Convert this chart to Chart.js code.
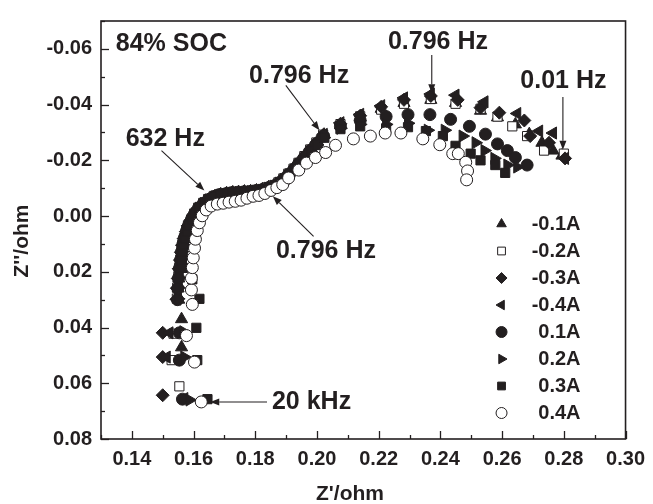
<!DOCTYPE html>
<html><head><meta charset="utf-8">
<script src="https://cdn.jsdelivr.net/npm/chart.js@4/dist/chart.umd.min.js"></script>
<style>html,body{margin:0;padding:0;background:#fff;}canvas{display:block;}</style>
</head><body>
<canvas id="c" width="653" height="504"></canvas>
<script>
// ---------- data (Z' , Z'') in ohm ----------
const seriesLabels = ['-0.1A','-0.2A','-0.3A','-0.4A','0.1A','0.2A','0.3A','0.4A'];

const sNeg01 = [[0.1561,0.0471],[0.1561,0.0370],[0.1552,0.0300],[0.1550,0.0260],[0.1552,0.0224],[0.1555,0.0190],[0.1558,0.0158],[0.1562,0.0130],[0.1566,0.0105],[0.1571,0.0081],[0.1578,0.0057],[0.1585,0.0035],[0.1594,0.0014],[0.1605,-0.0007],[0.1618,-0.0028],[0.1634,-0.0046],[0.1650,-0.0060],[0.1669,-0.0071],[0.1688,-0.0078],[0.1707,-0.0082],[0.1727,-0.0085],[0.1746,-0.0086],[0.1765,-0.0088],[0.1785,-0.0089],[0.1804,-0.0092],[0.1823,-0.0096],[0.1843,-0.0103],[0.1861,-0.0110],[0.1878,-0.0121],[0.1894,-0.0136],[0.1910,-0.0153],[0.1926,-0.0171],[0.1943,-0.0192],[0.1962,-0.0216],[0.1981,-0.0240],[0.2001,-0.0265],[0.2023,-0.0292],[0.2076,-0.0326],[0.2140,-0.0354],[0.2208,-0.0385],[0.2282,-0.0406],[0.2369,-0.0417],[0.2449,-0.0406],[0.2530,-0.0378],[0.2585,-0.0354],[0.2643,-0.0329],[0.2688,-0.0294],[0.2729,-0.0263],[0.2765,-0.0235],[0.2794,-0.0217]];

const sNeg02 = [[0.1554,0.0611],[0.1529,0.0517],[0.1535,0.0422],[0.1546,0.0296],[0.1547,0.0257],[0.1550,0.0222],[0.1553,0.0187],[0.1557,0.0156],[0.1560,0.0128],[0.1563,0.0103],[0.1569,0.0079],[0.1576,0.0054],[0.1582,0.0033],[0.1592,0.0012],[0.1602,-0.0009],[0.1615,-0.0030],[0.1631,-0.0047],[0.1647,-0.0061],[0.1666,-0.0072],[0.1685,-0.0079],[0.1705,-0.0082],[0.1724,-0.0086],[0.1743,-0.0086],[0.1763,-0.0089],[0.1782,-0.0089],[0.1801,-0.0093],[0.1821,-0.0096],[0.1840,-0.0103],[0.1859,-0.0110],[0.1875,-0.0121],[0.1891,-0.0135],[0.1907,-0.0152],[0.1924,-0.0170],[0.1940,-0.0191],[0.1959,-0.0215],[0.1978,-0.0239],[0.1998,-0.0264],[0.2020,-0.0292],[0.2076,-0.0330],[0.2140,-0.0358],[0.2208,-0.0382],[0.2282,-0.0403],[0.2369,-0.0420],[0.2449,-0.0403],[0.2530,-0.0385],[0.2585,-0.0357],[0.2633,-0.0322],[0.2681,-0.0287],[0.2736,-0.0235],[0.2800,-0.0224]];

const sNeg03 = [[0.1500,0.0643],[0.1500,0.0506],[0.1500,0.0419],[0.1545,0.0299],[0.1546,0.0259],[0.1549,0.0224],[0.1552,0.0189],[0.1556,0.0158],[0.1559,0.0130],[0.1563,0.0105],[0.1568,0.0081],[0.1575,0.0056],[0.1581,0.0035],[0.1591,0.0014],[0.1601,-0.0007],[0.1614,-0.0028],[0.1630,-0.0045],[0.1646,-0.0059],[0.1665,-0.0070],[0.1684,-0.0077],[0.1704,-0.0081],[0.1723,-0.0084],[0.1742,-0.0085],[0.1762,-0.0087],[0.1781,-0.0088],[0.1800,-0.0091],[0.1820,-0.0095],[0.1839,-0.0101],[0.1858,-0.0108],[0.1874,-0.0119],[0.1890,-0.0133],[0.1906,-0.0150],[0.1923,-0.0168],[0.1939,-0.0189],[0.1958,-0.0213],[0.1977,-0.0237],[0.1997,-0.0262],[0.2019,-0.0290],[0.2076,-0.0331],[0.2140,-0.0360],[0.2208,-0.0392],[0.2282,-0.0417],[0.2369,-0.0431],[0.2456,-0.0417],[0.2530,-0.0389],[0.2591,-0.0371],[0.2672,-0.0343],[0.2691,-0.0287],[0.2752,-0.0263],[0.2804,-0.0207]];

const sNeg04 = [[0.1570,0.0655],[0.1513,0.0506],[0.1522,0.0419],[0.1547,0.0298],[0.1549,0.0258],[0.1552,0.0223],[0.1555,0.0188],[0.1559,0.0157],[0.1562,0.0129],[0.1565,0.0104],[0.1571,0.0080],[0.1578,0.0055],[0.1584,0.0034],[0.1594,0.0013],[0.1604,-0.0008],[0.1617,-0.0029],[0.1633,-0.0046],[0.1649,-0.0060],[0.1668,-0.0071],[0.1687,-0.0078],[0.1707,-0.0081],[0.1726,-0.0085],[0.1745,-0.0085],[0.1765,-0.0088],[0.1784,-0.0088],[0.1803,-0.0092],[0.1823,-0.0095],[0.1842,-0.0102],[0.1861,-0.0109],[0.1877,-0.0121],[0.1893,-0.0135],[0.1909,-0.0152],[0.1926,-0.0170],[0.1942,-0.0191],[0.1961,-0.0216],[0.1980,-0.0240],[0.2000,-0.0265],[0.2022,-0.0293],[0.2076,-0.0335],[0.2140,-0.0365],[0.2208,-0.0396],[0.2282,-0.0424],[0.2369,-0.0438],[0.2449,-0.0434],[0.2543,-0.0410],[0.2649,-0.0368],[0.2720,-0.0305],[0.2765,-0.0298],[0.2804,-0.0207]];

const sPos01 = [[0.1564,0.0657],[0.1554,0.0517],[0.1554,0.0419],[0.1548,0.0300],[0.1549,0.0259],[0.1551,0.0223],[0.1554,0.0188],[0.1558,0.0157],[0.1561,0.0128],[0.1565,0.0103],[0.1570,0.0079],[0.1577,0.0054],[0.1584,0.0033],[0.1593,0.0012],[0.1603,-0.0008],[0.1616,-0.0029],[0.1632,-0.0046],[0.1648,-0.0059],[0.1667,-0.0070],[0.1686,-0.0077],[0.1706,-0.0080],[0.1725,-0.0084],[0.1744,-0.0084],[0.1764,-0.0087],[0.1783,-0.0087],[0.1802,-0.0091],[0.1822,-0.0094],[0.1841,-0.0101],[0.1860,-0.0108],[0.1876,-0.0119],[0.1892,-0.0133],[0.1908,-0.0150],[0.1925,-0.0168],[0.1941,-0.0189],[0.1960,-0.0212],[0.1979,-0.0236],[0.1999,-0.0260],[0.2021,-0.0287],[0.2076,-0.0322],[0.2140,-0.0343],[0.2224,-0.0357],[0.2295,-0.0364],[0.2366,-0.0364],[0.2433,-0.0347],[0.2494,-0.0322],[0.2546,-0.0294],[0.2585,-0.0259],[0.2617,-0.0235],[0.2643,-0.0210],[0.2681,-0.0183]];

const sPos02 = [[0.1587,0.0660],[0.1570,0.0506],[0.1567,0.0415],[0.1550,0.0297],[0.1551,0.0257],[0.1553,0.0222],[0.1556,0.0187],[0.1559,0.0156],[0.1562,0.0128],[0.1566,0.0103],[0.1572,0.0079],[0.1578,0.0054],[0.1585,0.0033],[0.1594,0.0012],[0.1604,-0.0008],[0.1617,-0.0028],[0.1633,-0.0045],[0.1649,-0.0058],[0.1668,-0.0069],[0.1687,-0.0076],[0.1707,-0.0079],[0.1726,-0.0083],[0.1745,-0.0083],[0.1765,-0.0086],[0.1784,-0.0086],[0.1803,-0.0090],[0.1823,-0.0093],[0.1842,-0.0100],[0.1861,-0.0107],[0.1877,-0.0118],[0.1893,-0.0131],[0.1909,-0.0148],[0.1926,-0.0166],[0.1942,-0.0186],[0.1961,-0.0209],[0.1980,-0.0232],[0.2000,-0.0256],[0.2022,-0.0282],[0.2076,-0.0315],[0.2140,-0.0329],[0.2224,-0.0329],[0.2295,-0.0333],[0.2359,-0.0308],[0.2414,-0.0308],[0.2472,-0.0287],[0.2514,-0.0263],[0.2543,-0.0235],[0.2575,-0.0207],[0.2617,-0.0183],[0.2649,-0.0176]];

const sPos03 = [[0.1645,0.0657],[0.1612,0.0517],[0.1609,0.0401],[0.1619,0.0297],[0.1596,0.0227],[0.1566,0.0186],[0.1562,0.0156],[0.1564,0.0128],[0.1568,0.0103],[0.1573,0.0079],[0.1580,0.0054],[0.1587,0.0033],[0.1596,0.0012],[0.1606,-0.0008],[0.1619,-0.0028],[0.1635,-0.0045],[0.1651,-0.0058],[0.1670,-0.0069],[0.1689,-0.0076],[0.1709,-0.0079],[0.1728,-0.0082],[0.1747,-0.0083],[0.1767,-0.0085],[0.1786,-0.0086],[0.1805,-0.0089],[0.1825,-0.0092],[0.1844,-0.0099],[0.1863,-0.0106],[0.1879,-0.0117],[0.1895,-0.0130],[0.1911,-0.0147],[0.1928,-0.0165],[0.1944,-0.0185],[0.1963,-0.0208],[0.1982,-0.0231],[0.2002,-0.0255],[0.2024,-0.0281],[0.2076,-0.0312],[0.2140,-0.0322],[0.2224,-0.0315],[0.2295,-0.0319],[0.2353,-0.0305],[0.2408,-0.0287],[0.2449,-0.0252],[0.2498,-0.0224],[0.2530,-0.0200],[0.2578,-0.0183],[0.2610,-0.0155]];

const sPos04 = [[0.1625,0.0667],[0.1603,0.0524],[0.1577,0.0429],[0.1596,0.0317],[0.1593,0.0265],[0.1593,0.0223],[0.1596,0.0185],[0.1599,0.0150],[0.1603,0.0115],[0.1606,0.0083],[0.1612,0.0052],[0.1619,0.0024],[0.1628,-0.0001],[0.1641,-0.0022],[0.1657,-0.0036],[0.1677,-0.0043],[0.1696,-0.0046],[0.1715,-0.0050],[0.1735,-0.0053],[0.1754,-0.0057],[0.1773,-0.0064],[0.1793,-0.0071],[0.1812,-0.0074],[0.1831,-0.0081],[0.1851,-0.0092],[0.1870,-0.0102],[0.1889,-0.0113],[0.1908,-0.0137],[0.1941,-0.0165],[0.1966,-0.0190],[0.1995,-0.0210],[0.2028,-0.0228],[0.2060,-0.0254],[0.2118,-0.0277],[0.2173,-0.0287],[0.2221,-0.0298],[0.2272,-0.0298],[0.2343,-0.0277],[0.2398,-0.0256],[0.2440,-0.0224],[0.2458,-0.0224],[0.2482,-0.0193],[0.2488,-0.0162],[0.2485,-0.0130]];

const seriesData = [sNeg01, sNeg02, sNeg03, sNeg04, sPos01, sPos02, sPos03, sPos04];

// annotation texts (in data units) and arrows
const noteTexts = [
  {t:'84% SOC', x:0.1348, y:-0.0616},
  {t:'632 Hz', x:0.1380, y:-0.0277},
  {t:'0.796 Hz', x:0.1780, y:-0.0504},
  {t:'0.796 Hz', x:0.2230, y:-0.0623},
  {t:'0.01 Hz', x:0.2659, y:-0.0483},
  {t:'0.796 Hz', x:0.1867, y:0.0125},
  {t:'20 kHz', x:0.1854, y:0.0667}
];
const noteArrows = [
  [0.1496,-0.0235, 0.1635,-0.0092],
  [0.1899,-0.0469, 0.2008,-0.0308],
  [0.2372,-0.0578, 0.2372,-0.0441],
  [0.2797,-0.0427, 0.2797,-0.0238],
  [0.1989, 0.0073, 0.1857,-0.0071],
  [0.1838, 0.0667, 0.1654, 0.0667]
];

// ---------- styling ----------
const INK = '#231f20';
const FONT = "'Liberation Sans', Arial, Helvetica, sans-serif";
const markerStyles = [
  {ps:'triangle', rot:0,   fill:INK,    r:7},
  {ps:'rect',     rot:0,   fill:'#fff', r:6.5},
  {ps:'rectRot',  rot:0,   fill:INK,    r:6.5},
  {ps:'triangle', rot:-90, fill:INK,    r:7},
  {ps:'circle',   rot:0,   fill:INK,    r:6},
  {ps:'triangle', rot:90,  fill:INK,    r:7},
  {ps:'rect',     rot:0,   fill:INK,    r:6.5},
  {ps:'circle',   rot:0,   fill:'#fff', r:6}
];

function drawMarker(ctx, m, x, y, r) {
  ctx.beginPath();
  if (m.ps === 'circle') ctx.arc(x, y, r, 0, Math.PI*2);
  else if (m.ps === 'triangle') {
    let a = m.rot*Math.PI/180;
    for (let i=0;i<3;i++){ const px=x+Math.sin(a)*r, py=y-Math.cos(a)*r; i?ctx.lineTo(px,py):ctx.moveTo(px,py); a+=2*Math.PI/3; }
    ctx.closePath();
  } else if (m.ps === 'rect') { const s=r*Math.SQRT1_2; ctx.rect(x-s,y-s,2*s,2*s); }
  else if (m.ps === 'rectRot') { ctx.moveTo(x,y-r); ctx.lineTo(x+r,y); ctx.lineTo(x,y+r); ctx.lineTo(x-r,y); ctx.closePath(); }
  ctx.fillStyle = m.fill; ctx.fill();
  ctx.lineWidth = 1; ctx.strokeStyle = INK; ctx.stroke();
}

function arrow(ctx, x1, y1, x2, y2) {
  const ang = Math.atan2(y2-y1, x2-x1), L = 9, W = 3.5;
  const bx = x2 - Math.cos(ang)*L, by = y2 - Math.sin(ang)*L;
  ctx.beginPath(); ctx.moveTo(x1,y1); ctx.lineTo(bx,by); ctx.lineWidth = 1.1; ctx.strokeStyle = INK; ctx.stroke();
  ctx.beginPath(); ctx.moveTo(x2,y2);
  ctx.lineTo(bx - Math.sin(ang)*W, by + Math.cos(ang)*W);
  ctx.lineTo(bx + Math.sin(ang)*W, by - Math.cos(ang)*W);
  ctx.closePath(); ctx.fillStyle = INK; ctx.fill();
}

const framePlugin = {
  id: 'frame',
  afterDraw(chart) {
    const {ctx, chartArea: a, scales: {x, y}} = chart;
    ctx.save();
    // inward ticks
    ctx.strokeStyle = INK; ctx.lineWidth = 1.3;
    x.ticks.forEach(t => {
      const px = Math.round(x.getPixelForValue(t.value)) + 0.5;
      const len = t.label ? 8 : 4;
      ctx.beginPath(); ctx.moveTo(px, a.bottom); ctx.lineTo(px, a.bottom - len); ctx.stroke();
    });
    y.ticks.forEach(t => {
      const py = Math.round(y.getPixelForValue(t.value)) + 0.5;
      const len = t.label ? 8 : 4;
      ctx.beginPath(); ctx.moveTo(a.left, py); ctx.lineTo(a.left + len, py); ctx.stroke();
    });
    // frame
    ctx.lineWidth = 1.6;
    ctx.strokeRect(a.left, a.top, a.right - a.left, a.bottom - a.top);
    // annotations
    ctx.fillStyle = INK; ctx.font = 'bold 25px ' + FONT;
    ctx.textAlign = 'left'; ctx.textBaseline = 'middle';
    noteTexts.forEach(n => ctx.fillText(n.t, x.getPixelForValue(n.x), y.getPixelForValue(n.y)));
    noteArrows.forEach(r => arrow(ctx, x.getPixelForValue(r[0]), y.getPixelForValue(r[1]), x.getPixelForValue(r[2]), y.getPixelForValue(r[3])));
    // legend
    ctx.font = 'bold 20px ' + FONT; ctx.textAlign = 'right'; ctx.textBaseline = 'middle';
    chart.data.datasets.forEach((ds, i) => {
      const ly = a.top + 203 + i * 27;
      drawMarker(ctx, markerStyles[i], a.right - 124, ly, 5.5);
      ctx.fillStyle = INK;
      ctx.fillText(ds.label, a.right - 45, ly);
    });
    // axis titles
    ctx.font = 'bold 21px ' + FONT; ctx.textAlign = 'center'; ctx.fillStyle = INK;
    ctx.fillText("Z'/ohm", 350, 494);
    ctx.translate(22, 241); ctx.rotate(-Math.PI/2);
    ctx.fillText("Z''/ohm", 0, 0);
    ctx.restore();
  }
};

const tickFont = {family: FONT, size: 20, weight: 'bold'};
const fmt = v => { const k = Math.round(v*100); if (k % 2 !== 0) return ''; return k === 0 ? '0.00' : (k/100).toFixed(2); };

new Chart(document.getElementById('c'), {
  type: 'scatter',
  data: {
    datasets: seriesData.map((d, i) => ({
      label: seriesLabels[i],
      data: d.map(p => ({x: p[0], y: p[1]})),
      pointStyle: markerStyles[i].ps,
      rotation: markerStyles[i].rot,
      pointRotation: markerStyles[i].rot,
      pointRadius: markerStyles[i].r,
      pointBackgroundColor: markerStyles[i].fill,
      pointBorderColor: INK,
      pointBorderWidth: 1,
      showLine: false,
      order: 7 - i
    }))
  },
  options: {
    responsive: false, animation: false, devicePixelRatio: 1,
    layout: {padding: {left: 0, right: 24, top: 12, bottom: 0}},
    plugins: {legend: {display: false}, tooltip: {enabled: false}},
    scales: {
      x: {
        type: 'linear', min: 0.13, max: 0.30,
        afterFit: s => { s.height = 65; },
        grid: {display: false, drawTicks: false}, border: {display: false},
        ticks: {stepSize: 0.01, autoSkip: false, maxRotation: 0, maxTicksLimit: 100, padding: 8, font: tickFont, color: INK, callback: fmt}
      },
      y: {
        type: 'linear', min: -0.07, max: 0.08, reverse: true,
        afterFit: s => { s.width = 101; },
        grid: {display: false, drawTicks: false}, border: {display: false},
        ticks: {stepSize: 0.01, autoSkip: false, maxTicksLimit: 100, padding: 9, font: tickFont, color: INK, callback: fmt}
      }
    }
  },
  plugins: [framePlugin]
});
</script>
</body></html>
